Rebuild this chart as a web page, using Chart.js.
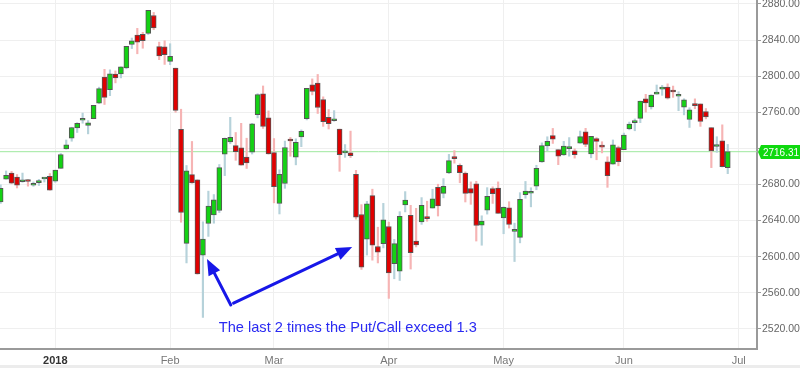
<!DOCTYPE html>
<html>
<head>
<meta charset="utf-8">
<script src="https://cdn.jsdelivr.net/npm/chart.js@4.4.1/dist/chart.umd.min.js"></script>
<style>
  html, body { margin: 0; padding: 0; background: #fff; }
  canvas { display: block; }
</style>
</head>
<body>
<canvas id="spxChart" width="800" height="368"></canvas>
<script>
// daily candles, trading days only
const dates = [
  '2017-12-15','2017-12-18','2017-12-19','2017-12-20','2017-12-21','2017-12-22','2017-12-26','2017-12-27','2017-12-28','2017-12-29',
  '2018-01-02','2018-01-03','2018-01-04','2018-01-05','2018-01-08','2018-01-09','2018-01-10','2018-01-11','2018-01-12','2018-01-16',
  '2018-01-17','2018-01-18','2018-01-19','2018-01-22','2018-01-23','2018-01-24','2018-01-25','2018-01-26','2018-01-29','2018-01-30',
  '2018-01-31','2018-02-01','2018-02-02','2018-02-05','2018-02-06','2018-02-07','2018-02-08','2018-02-09','2018-02-12','2018-02-13',
  '2018-02-14','2018-02-15','2018-02-16','2018-02-20','2018-02-21','2018-02-22','2018-02-23','2018-02-26','2018-02-27','2018-02-28',
  '2018-03-01','2018-03-02','2018-03-05','2018-03-06','2018-03-07','2018-03-08','2018-03-09','2018-03-12','2018-03-13','2018-03-14',
  '2018-03-15','2018-03-16','2018-03-19','2018-03-20','2018-03-21','2018-03-22','2018-03-23','2018-03-26','2018-03-27','2018-03-28',
  '2018-03-29','2018-04-02','2018-04-03','2018-04-04','2018-04-05','2018-04-06','2018-04-09','2018-04-10','2018-04-11','2018-04-12',
  '2018-04-13','2018-04-16','2018-04-17','2018-04-18','2018-04-19','2018-04-20','2018-04-23','2018-04-24','2018-04-25','2018-04-26',
  '2018-04-27','2018-04-30','2018-05-01','2018-05-02','2018-05-03','2018-05-04','2018-05-07','2018-05-08','2018-05-09','2018-05-10',
  '2018-05-11','2018-05-14','2018-05-15','2018-05-16','2018-05-17','2018-05-18','2018-05-21','2018-05-22','2018-05-23','2018-05-24',
  '2018-05-25','2018-05-29','2018-05-30','2018-05-31','2018-06-01','2018-06-04','2018-06-05','2018-06-06','2018-06-07','2018-06-08',
  '2018-06-11','2018-06-12','2018-06-13','2018-06-14','2018-06-15','2018-06-18','2018-06-19','2018-06-20','2018-06-21','2018-06-22',
  '2018-06-25','2018-06-26','2018-06-27','2018-06-28'
];
const opens = [
  2660.63,2685.92,2692.71,2688.18,2683.02,2684.22,2679.09,2682.10,2686.10,2689.15,
  2683.73,2697.85,2719.31,2731.33,2742.67,2751.15,2745.55,2752.97,2770.18,2798.96,
  2784.99,2802.40,2802.60,2809.16,2835.05,2845.42,2846.24,2847.48,2867.23,2832.74,
  2832.41,2816.45,2808.92,2741.06,2614.78,2690.95,2685.01,2601.78,2636.75,2646.27,
  2651.21,2713.46,2727.14,2722.99,2720.53,2710.42,2715.80,2757.37,2780.45,2753.78,
  2715.22,2658.89,2681.06,2730.18,2710.18,2732.75,2752.91,2790.54,2792.31,2774.06,
  2754.27,2750.57,2741.38,2715.05,2714.99,2691.36,2646.71,2619.35,2667.57,2611.30,
  2614.41,2633.45,2592.17,2584.04,2657.36,2645.82,2617.18,2638.41,2643.88,2653.83,
  2676.90,2670.10,2692.74,2710.11,2701.16,2692.56,2675.40,2680.80,2634.92,2651.65,
  2675.47,2676.10,2642.96,2654.24,2628.08,2621.45,2668.60,2670.26,2678.12,2705.02,
  2722.70,2734.20,2718.59,2712.62,2719.71,2717.35,2725.80,2738.34,2713.98,2730.94,
  2723.60,2705.11,2702.43,2720.98,2718.70,2741.67,2748.46,2753.25,2774.84,2765.84,
  2780.18,2785.60,2787.94,2783.21,2777.78,2765.79,2752.01,2769.73,2769.28,2760.79,
  2742.94,2722.12,2728.45,2698.69
];
const highs = [
  2679.63,2694.97,2694.44,2691.01,2692.64,2685.35,2682.74,2685.64,2687.66,2692.12,
  2695.89,2714.37,2729.29,2743.45,2748.51,2759.14,2750.80,2767.56,2787.85,2807.54,
  2807.04,2805.83,2810.33,2833.03,2842.24,2852.97,2848.56,2872.87,2870.62,2837.75,
  2839.26,2835.96,2808.92,2763.39,2701.04,2727.67,2685.27,2638.67,2672.61,2668.84,
  2702.10,2731.51,2754.42,2737.60,2747.75,2731.26,2747.76,2780.64,2789.15,2761.52,
  2730.89,2696.25,2728.09,2732.08,2730.60,2740.45,2786.57,2796.98,2801.90,2777.11,
  2763.03,2761.85,2741.38,2724.22,2739.14,2695.68,2657.67,2661.36,2674.78,2632.65,
  2659.07,2638.30,2619.14,2649.86,2672.08,2656.88,2653.55,2665.45,2661.43,2674.72,
  2680.26,2686.49,2713.34,2717.49,2702.84,2693.94,2682.86,2683.55,2645.30,2676.48,
  2677.35,2682.87,2655.27,2660.87,2637.14,2670.93,2683.35,2676.34,2701.27,2726.11,
  2732.86,2742.10,2718.59,2727.76,2731.96,2719.50,2739.19,2742.24,2733.33,2731.97,
  2727.36,2710.67,2729.34,2722.50,2736.93,2749.16,2752.61,2772.39,2779.90,2779.39,
  2790.21,2789.80,2791.47,2789.06,2782.81,2774.99,2765.05,2774.86,2769.28,2764.17,
  2742.94,2732.91,2746.09,2724.34
];
const lows = [
  2659.14,2685.92,2680.74,2676.11,2682.40,2678.13,2677.96,2678.91,2682.69,2673.61,
  2682.36,2697.77,2719.07,2727.92,2737.60,2747.86,2736.06,2752.78,2769.64,2768.64,
  2778.38,2792.56,2798.08,2808.12,2830.59,2824.81,2830.94,2846.18,2851.48,2818.27,
  2813.04,2812.70,2759.97,2638.17,2593.07,2681.33,2580.56,2532.69,2622.45,2637.08,
  2648.87,2689.82,2725.11,2706.76,2701.29,2697.77,2713.74,2753.78,2742.10,2713.54,
  2659.65,2647.32,2675.75,2711.26,2701.74,2721.88,2751.54,2779.26,2758.68,2744.38,
  2741.47,2749.97,2694.59,2710.05,2709.79,2641.59,2585.89,2601.81,2596.12,2593.06,
  2609.72,2553.80,2575.49,2573.61,2649.58,2586.27,2610.79,2635.78,2639.25,2653.83,
  2645.05,2665.16,2692.05,2703.63,2681.90,2660.61,2657.99,2617.32,2612.67,2647.16,
  2659.01,2648.04,2625.41,2631.70,2594.62,2615.32,2664.70,2655.20,2674.14,2704.54,
  2717.45,2725.47,2701.91,2712.17,2711.36,2709.18,2725.70,2721.88,2709.54,2707.38,
  2714.99,2676.81,2702.43,2700.68,2718.70,2740.54,2739.51,2748.46,2760.16,2763.59,
  2780.17,2778.78,2774.65,2776.52,2761.73,2757.12,2743.19,2763.91,2744.39,2752.68,
  2698.67,2715.60,2699.38,2691.99
];
const closes = [
  2675.81,2690.16,2681.47,2679.25,2684.57,2683.34,2680.50,2682.62,2687.54,2673.61,
  2695.81,2713.06,2723.99,2743.15,2747.71,2751.29,2748.23,2767.56,2786.24,2776.42,
  2802.56,2798.03,2810.30,2832.97,2839.13,2837.54,2839.25,2872.87,2853.53,2822.43,
  2823.81,2821.98,2762.13,2648.94,2695.14,2681.66,2581.00,2619.55,2656.00,2662.94,
  2698.63,2731.20,2732.22,2716.26,2701.33,2703.96,2747.30,2779.60,2744.28,2713.83,
  2677.67,2691.25,2720.94,2728.12,2726.80,2738.97,2786.57,2783.02,2765.31,2749.48,
  2747.33,2752.01,2712.92,2716.94,2711.93,2643.69,2588.26,2658.55,2612.62,2605.00,
  2640.87,2581.88,2614.45,2644.69,2662.84,2604.47,2613.16,2656.87,2642.19,2663.99,
  2656.30,2677.84,2706.39,2708.64,2693.13,2670.14,2670.29,2634.56,2639.40,2666.94,
  2669.91,2648.05,2654.80,2635.67,2629.73,2663.42,2672.63,2671.92,2697.79,2723.07,
  2727.72,2730.13,2711.45,2722.46,2720.13,2712.97,2733.01,2724.44,2733.29,2727.76,
  2721.33,2689.86,2724.01,2705.27,2734.62,2746.87,2748.80,2772.35,2770.37,2779.03,
  2782.00,2786.85,2775.63,2782.49,2779.66,2773.75,2762.59,2767.32,2749.76,2754.88,
  2717.07,2723.06,2699.63,2716.31
];
// empty trading days that the axis runs on to
const futureDates = ['2018-06-29','2018-07-02','2018-07-03','2018-07-05','2018-07-06'];
const monthNames = ['Jan','Feb','Mar','Apr','May','Jun','Jul','Aug','Sep','Oct','Nov','Dec'];
const yTicks = [2520,2560,2600,2640,2680,2720,2760,2800,2840,2880];

const noteText = 'The last 2 times the Put/Call exceed 1.3';
// [from index, from value, to index, to value]
const noteArrows = [
  [42.1, 2546.5, 37.75, 2597.5],
  [42.6, 2548.5, 64.3, 2610.7]
];
const notePos = [63.5, 2520.5];

const FONT = '"Liberation Sans", Arial, sans-serif';
const xMin = -0.115, xMax = 138.35;
const yMin = 2497.7, yMax = 2884.4;

const allDates = dates.concat(futureDates);
const monthTicks = [];
allDates.forEach((d, i) => {
  if (i > 0 && d.slice(5, 7) !== allDates[i - 1].slice(5, 7)) monthTicks.push(i);
});
function tickLabel(i) {
  const d = allDates[i];
  if (!d) return '';
  const m = +d.slice(5, 7);
  return m === 1 ? d.slice(0, 4) : monthNames[m - 1];
}
function isYearTick(ctx) {
  return !!(ctx && ctx.tick && tickLabel(ctx.tick.value).length === 4);
}

const isUp = closes.map((c, i) => c >= opens[i]);
const lastClose = closes[closes.length - 1];

function drawArrow(ctx, x1, y1, x2, y2) {
  const ang = Math.atan2(y2 - y1, x2 - x1);
  const head = 16, half = 6.5;
  const bx = x2 - Math.cos(ang) * head, by = y2 - Math.sin(ang) * head;
  ctx.beginPath();
  ctx.moveTo(x1, y1);
  ctx.lineTo(bx, by);
  ctx.stroke();
  ctx.beginPath();
  ctx.moveTo(x2, y2);
  ctx.lineTo(bx + Math.sin(ang) * half, by - Math.cos(ang) * half);
  ctx.lineTo(bx - Math.sin(ang) * half, by + Math.cos(ang) * half);
  ctx.closePath();
  ctx.fill();
}

const decor = {
  id: 'decor',
  beforeDraw(chart) {
    const c = chart.ctx;
    c.save();
    c.fillStyle = '#ffffff';
    c.fillRect(0, 0, chart.width, chart.height);
    c.fillStyle = '#ececec';
    c.fillRect(0, chart.height - 3, chart.width, 3);
    c.restore();
  },
  afterDraw(chart) {
    const c = chart.ctx;
    const xs = chart.scales.x, ys = chart.scales.y;
    // last price tag
    const py = Math.round(ys.getPixelForValue(lastClose));
    c.save();
    c.fillStyle = '#0fd90f';
    c.beginPath();
    c.moveTo(ys.left + 1, py);
    c.lineTo(ys.left + 4, py - 7);
    c.lineTo(chart.width, py - 7);
    c.lineTo(chart.width, py + 7);
    c.lineTo(ys.left + 4, py + 7);
    c.closePath();
    c.fill();
    c.fillStyle = '#ffffff';
    c.font = '11.5px ' + FONT;
    c.textBaseline = 'middle';
    c.fillText(lastClose.toFixed(2), ys.left + 6, py + 1, chart.width - ys.left - 7);

    // annotation
    c.strokeStyle = '#1717e8';
    c.fillStyle = '#1717e8';
    c.lineWidth = 3;
    c.lineCap = 'round';
    noteArrows.forEach(a => {
      drawArrow(c, xs.getPixelForValue(a[0]), ys.getPixelForValue(a[1]),
        xs.getPixelForValue(a[2]), ys.getPixelForValue(a[3]));
    });
    c.fillStyle = '#2a2af2';
    c.font = '14.6px ' + FONT;
    c.textAlign = 'center';
    c.textBaseline = 'middle';
    c.fillText(noteText, xs.getPixelForValue(notePos[0]), ys.getPixelForValue(notePos[1]));
    c.restore();
  }
};

new Chart(document.getElementById('spxChart'), {
  type: 'bar',
  data: {
    datasets: [
      {
        label: 'body',
        order: 0,
        grouped: false,
        data: dates.map((d, i) => ({ x: i, y: [opens[i], closes[i]] })),
        backgroundColor: isUp.map(u => u ? '#14d214' : '#e00000'),
        borderColor: '#555555',
        borderWidth: 1,
        borderSkipped: false,
        barThickness: 5,
        minBarLength: 2
      },
      {
        label: 'wick',
        order: 1,
        grouped: false,
        data: dates.map((d, i) => ({ x: i, y: [lows[i], highs[i]] })),
        backgroundColor: isUp.map(u => u ? '#b6d2da' : '#f6b4b4'),
        borderWidth: 0,
        barThickness: 1.5
      },
      {
        type: 'line',
        label: 'last',
        order: 2,
        data: [{ x: xMin, y: lastClose }, { x: xMax, y: lastClose }],
        borderColor: '#9ee89e',
        borderWidth: 1,
        pointRadius: 0
      }
    ]
  },
  options: {
    responsive: false,
    animation: false,
    devicePixelRatio: 1,
    layout: { padding: 0 },
    plugins: {
      legend: { display: false },
      tooltip: { enabled: false }
    },
    scales: {
      x: {
        type: 'linear',
        min: xMin,
        max: xMax,
        offset: false,
        grid: { color: '#efefef', drawTicks: false, offset: false },
        border: { color: '#9a9a9a', width: 2 },
        ticks: {
          padding: 5,
          autoSkip: false,
          maxRotation: 0,
          color: ctx => isYearTick(ctx) ? '#333333' : '#777777',
          font: ctx => ({ family: FONT, size: 11, weight: isYearTick(ctx) ? 'bold' : 'normal' }),
          callback: v => tickLabel(v)
        },
        afterBuildTicks: s => { s.ticks = monthTicks.map(v => ({ value: v })); },
        afterFit: s => { s.height = 19; s.paddingLeft = 0; s.paddingRight = 0; }
      },
      y: {
        position: 'right',
        min: yMin,
        max: yMax,
        grid: { color: '#efefef', tickColor: '#9a9a9a', tickLength: 4 },
        border: { color: '#9a9a9a', width: 2 },
        ticks: {
          padding: 1,
          color: '#666666',
          font: { family: FONT, size: 10.5 },
          // the price tag sits over the nearest label
          callback: v => Math.abs(v - lastClose) < 10 ? '' : v.toFixed(2)
        },
        afterBuildTicks: s => { s.ticks = yTicks.map(v => ({ value: v })); },
        afterFit: s => { s.width = 43; s.paddingTop = 0; s.paddingBottom = 0; }
      }
    }
  },
  plugins: [decor]
});
</script>
</body>
</html>
